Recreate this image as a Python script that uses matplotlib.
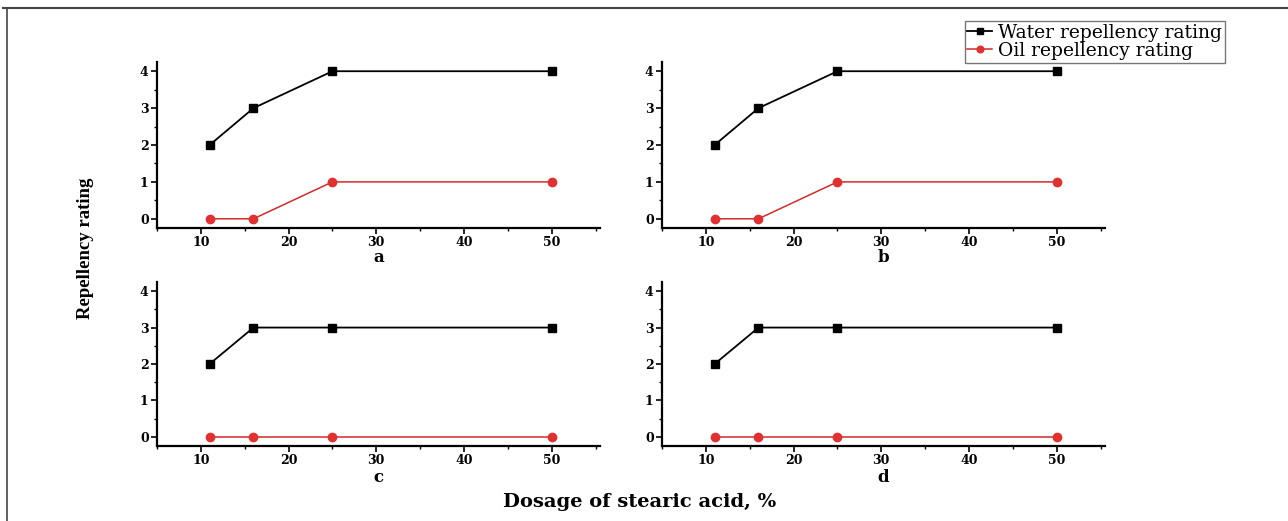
import numpy as np
import matplotlib
matplotlib.use("Agg")
import matplotlib.pyplot as plt
from matplotlib.lines import Line2D
from matplotlib.ticker import MultipleLocator

# data
dosage = [11, 16, 25, 50]
water_ab = [2, 3, 4, 4]
oil_ab = [0, 0, 1, 1]
water_cd = [2, 3, 3, 3]
oil_cd = [0, 0, 0, 0]
panel_labels = ["a", "b", "c", "d"]

panels = [
    (water_ab, oil_ab),
    (water_ab, oil_ab),
    (water_cd, oil_cd),
    (water_cd, oil_cd),
]

W, H = 1288, 521
fig = plt.figure(figsize=(W / 100, H / 100), dpi=100)

serif = ["DejaVu Serif"]
times = ["Liberation Serif"]

# axes boxes in pixels: (left, top, right, bottom)
boxes = [
    (157, 62, 600, 228),
    (662, 62, 1105, 228),
    (157, 282, 600, 446),
    (662, 282, 1105, 446),
]
label_y = [258, 258, 478, 478]

for i, ((water, oil), (l, t, r, b)) in enumerate(zip(panels, boxes)):
    ax = fig.add_axes([l / W, 1 - b / H, (r - l) / W, (b - t) / H])
    ax.plot(dosage, water, color="black", lw=1.3, marker="s", ms=6,
            label="Water repellency rating")
    ax.plot(dosage, oil, color="#d42a2a", lw=1.1, marker="o", ms=6,
            mfc="#e03030", mec="#e03030", label="Oil repellency rating")
    ax.set_xlim(5, 55.5)
    ax.set_ylim(-0.25, 4.25)
    ax.xaxis.set_major_locator(MultipleLocator(10))
    ax.xaxis.set_minor_locator(MultipleLocator(5))
    ax.yaxis.set_major_locator(MultipleLocator(1))
    ax.yaxis.set_minor_locator(MultipleLocator(0.5))
    ax.spines["top"].set_visible(False)
    ax.spines["right"].set_visible(False)
    ax.spines["left"].set_linewidth(1.6)
    ax.spines["bottom"].set_linewidth(1.6)
    ax.tick_params(which="major", direction="out", length=4, width=1.2,
                   labelsize=9, pad=2)
    ax.tick_params(which="minor", direction="out", length=2.5, width=1.0)
    for lab in ax.get_xticklabels() + ax.get_yticklabels():
        lab.set_family(serif)
        lab.set_fontweight("bold")
    fig.text((l + r) / 2 / W, 1 - label_y[i] / H, panel_labels[i],
             ha="center", va="center", family=serif, fontweight="bold",
             fontsize=12)
    if i == 1:
        handles, labels = ax.get_legend_handles_labels()

leg = fig.legend(handles, labels, loc="upper right",
                 bbox_to_anchor=(1225 / W, 1 - 21 / H),
                 prop={"family": serif, "size": 13.5},
                 frameon=True, fancybox=False, edgecolor="#555555",
                 handlelength=1.3, handletextpad=0.35, borderpad=0.15,
                 labelspacing=0.0, markerscale=0.8, borderaxespad=0)
leg.get_frame().set_linewidth(1.0)

fig.text(85 / W, 1 - 248 / H, "Repellency rating", rotation=90,
         ha="center", va="center", family=times, fontweight="bold",
         fontsize=13.5)
fig.text(640 / W, 1 - 502 / H, "Dosage of stearic acid, %",
         ha="center", va="center", family=serif, fontweight="bold",
         fontsize=14)

# outer frame lines (top and left) of the original figure
fig.add_artist(Line2D([3 / W, 1], [1 - 8 / H, 1 - 8 / H],
                      transform=fig.transFigure, color="#444444", lw=1.5))
fig.add_artist(Line2D([7 / W, 7 / W], [0, 1 - 8 / H],
                      transform=fig.transFigure, color="#444444", lw=1.2))

fig.savefig("out.png", dpi=100)
